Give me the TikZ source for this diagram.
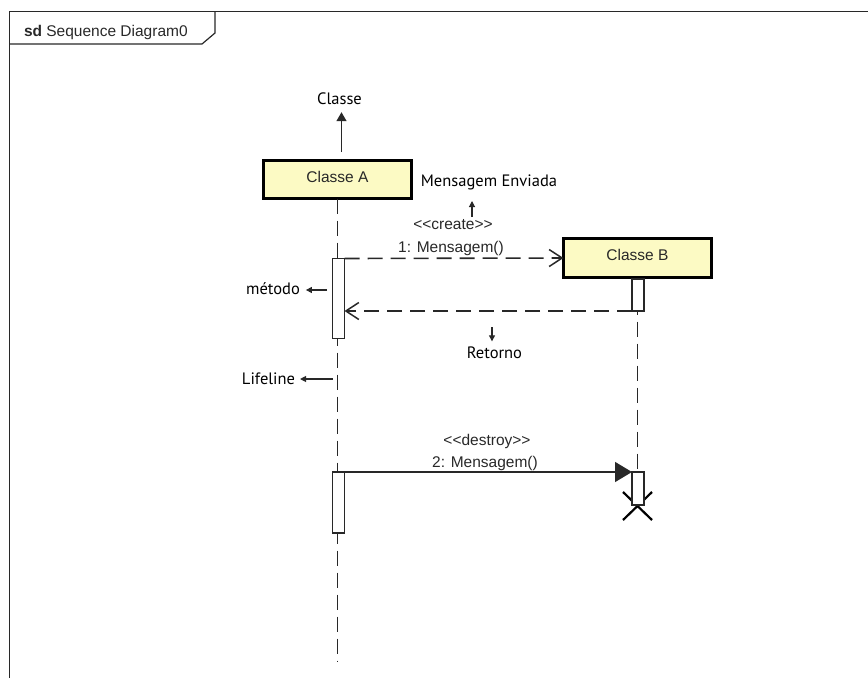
\documentclass[tikz,border=0pt]{standalone}
\usepackage{fontspec}
\newfontfamily\umlfont{Liberation Sans}
\newfontfamily\notefont{PT Sans}
\usetikzlibrary{arrows.meta,calc}

\definecolor{classfill}{RGB}{252,250,196}
\definecolor{ink}{RGB}{40,40,40}

\begin{document}
\begin{tikzpicture}[x=1pt,y=-1pt,
  every node/.style={inner sep=0pt, outer sep=0pt},
  umltext/.style={font=\umlfont\fontsize{15.5}{18}\selectfont, text=ink},
  notetext/.style={font=\notefont\fontsize{16.5}{19}\selectfont, text=black},
  classbox/.style={draw=black, line width=3pt, fill=classfill,
    minimum width=148pt, minimum height=38pt, umltext,
    text height=11pt, text depth=6pt},
  actbox/.style={draw=ink, line width=1.1pt, fill=white, minimum width=12pt},
  lifeline/.style={draw=ink, line width=1.6pt, dash pattern=on 15pt off 7pt},
  msgdash/.style={draw=ink, line width=1.6pt, dash pattern=on 15pt off 8pt,
    -{Straight Barb[length=13pt,width=17pt,line width=1.5pt]}},
  msgsolid/.style={draw=ink, line width=1.5pt,
    -{Triangle[length=17pt,width=20pt]}},
  notearrow/.style={draw=ink, line width=1.1pt, -{Triangle[length=6pt,width=6pt]}},
  bignote/.style={draw=ink, line width=1.4pt, -{Triangle[length=9pt,width=10pt]}},
  frameline/.style={draw=ink, line width=1.2pt},
]
\useasboundingbox (0,0) rectangle (868,678);

% diagram frame with its name tab
\draw[frameline] (9.5,678) -- (9.5,11.5) -- (868,11.5);
\draw[frameline] (9.5,44) -- (202,44) -- (215,33) -- (215,11.5);
\node[umltext, anchor=base west] (frameName) at (24,36)
  {\textbf{sd} Sequence Diagram0};

% classes
\node[classbox] (classA) at (337.5,179.5) {Classe A};
\node[classbox, minimum height=39pt] (classB) at (637.5,258) {Classe B};

% lifelines (behind the activation bars)
\coordinate (lifeEndA) at (337.5,662);
\coordinate (lifeEndB) at (637.5,472);
\draw[lifeline] (classA.south) -- (lifeEndA);
\draw[lifeline] (classB.south) -- (lifeEndB);

% destruction mark, partly hidden by the last activation bar
\coordinate (xMark) at (637.5,506);
\draw[black, line width=2.2pt] ($(xMark)+(-14.5,-14)$) -- ($(xMark)+(14.5,14)$);
\draw[black, line width=2.2pt] ($(xMark)+(14.5,-14)$) -- ($(xMark)+(-14.5,14)$);

% activation bars
\node[actbox, minimum height=80pt] (actA1) at (338.5,298.5) {};
\node[actbox, minimum height=32pt] (actB1) at (638,295) {};
\node[actbox, minimum height=61pt] (actA2) at (338.5,502.5) {};
\node[actbox, minimum height=33pt] (actB2) at (638,488.5) {};

% messages
\draw[msgdash] (actA1.north east) -- (classB.west);
\node[umltext, anchor=base] (createSt) at (453,229) {<<create>>};
\node[umltext, anchor=base] (createMsg) at (451,252) {1: Mensagem()};

\draw[msgdash] (actB1.south west) -- (actB1.south west -| actA1.east);

\draw[msgsolid] (actA2.north east) -- (actB2.north west);
\node[umltext, anchor=base] (destroySt) at (487,445) {<<destroy>>};
\node[umltext, anchor=base] (destroyMsg) at (485,467) {2: Mensagem()};

% annotations
\node[notetext, anchor=base] (noteClasse) at (339.5,104) {Classe};
\coordinate (tailClasse) at (341.5,152);
\draw[bignote, shorten >=8pt] (tailClasse) -- (tailClasse |- noteClasse.south);

\node[notetext, anchor=base] (noteEnviada) at (489,186.5) {Mensagem Enviada};
\coordinate (tailEnviada) at (472,217);
\draw[notearrow, shorten >=11pt] (tailEnviada) -- (tailEnviada |- noteEnviada.south);

\node[notetext, anchor=base] (noteRetorno) at (494.5,358) {Retorno};
\coordinate (tailRetorno) at (492,327);
\draw[notearrow, shorten >=5pt] (tailRetorno) -- (tailRetorno |- noteRetorno.north);

\node[notetext, anchor=base] (noteMetodo) at (273,294.5) {método};
\coordinate (tailMetodo) at (327,290);
\draw[notearrow, shorten >=6pt] (tailMetodo) -- (tailMetodo -| noteMetodo.east);

\node[notetext, anchor=base] (noteLifeline) at (268.5,384) {Lifeline};
\coordinate (tailLifeline) at (333,379);
\draw[notearrow, shorten >=5pt] (tailLifeline) -- (tailLifeline -| noteLifeline.east);
\end{tikzpicture}
\end{document}
